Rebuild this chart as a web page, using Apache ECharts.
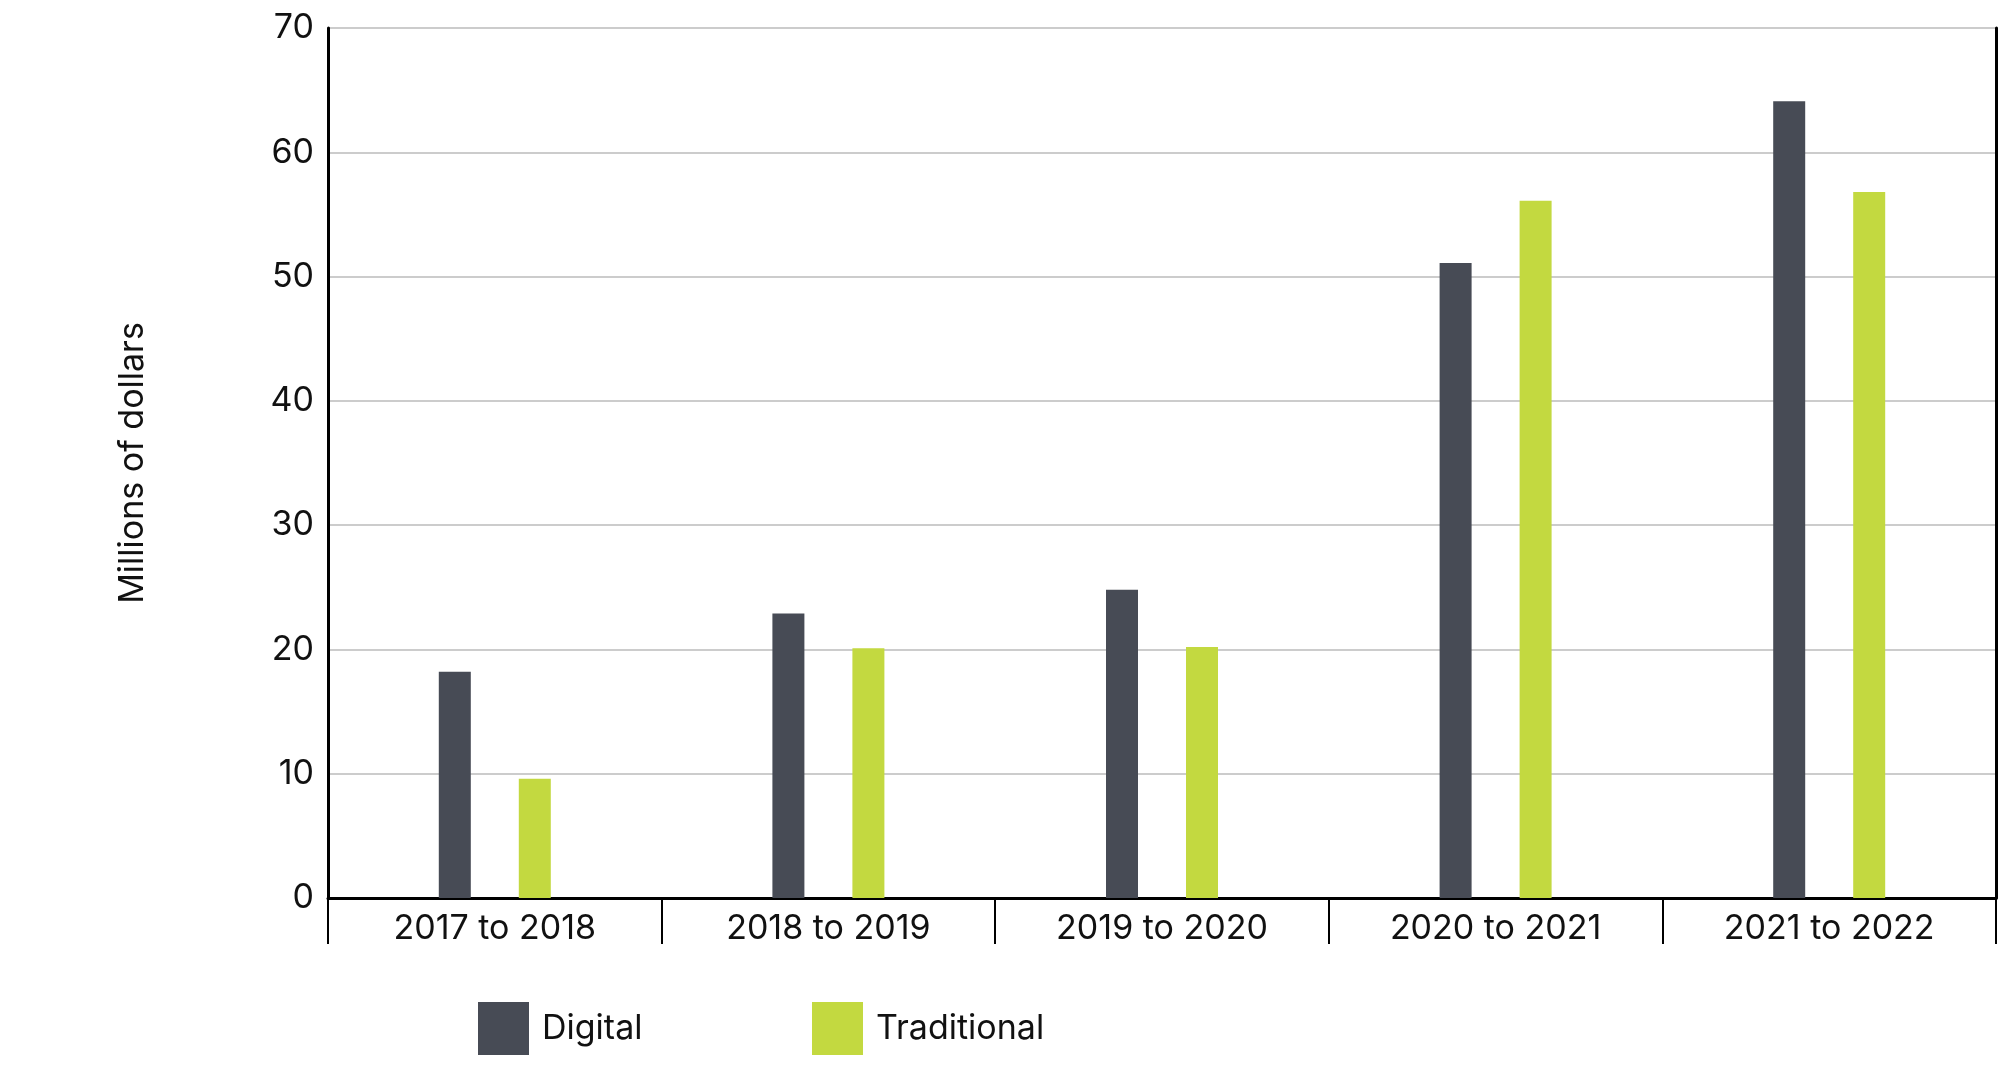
<!DOCTYPE html>
<html><head><meta charset="utf-8">
<script src="https://cdn.jsdelivr.net/npm/echarts@6/dist/echarts.min.js"></script>
<style>html,body{margin:0;background:#fff}#c{width:2000px;height:1084px}</style>
</head><body><div id="c"></div>
<script>
const categories = ['2017 to 2018','2018 to 2019','2019 to 2020','2020 to 2021','2021 to 2022'];
const digital = [18.2, 22.9, 24.8, 51.1, 64.1];
const traditional = [9.6, 20.1, 20.2, 56.1, 56.8];
const font = 'Inter, "Liberation Sans", sans-serif';
const chart = echarts.init(document.getElementById('c'));
const leg = (name, left) => ({left:left,top:997,itemWidth:51,itemHeight:53,icon:'rect',
    textStyle:{fontSize:34,color:'#111',fontFamily:font,padding:[0,0,0,8]},data:[name]});
chart.setOption({
  animation:false,
  textStyle:{fontFamily:font},
  grid:{left:328,right:4,top:28,bottom:186},
  legend:[leg('Digital',473), leg('Traditional',807)],
  xAxis:{type:'category',data:categories,boundaryGap:true,
    axisLine:{lineStyle:{color:'#000',width:3}},
    axisTick:{show:true,length:46,lineStyle:{color:'#000',width:2}},
    axisLabel:{fontSize:34,color:'#111',margin:14,fontFamily:font}},
  yAxis:[{type:'value',min:0,max:70,interval:10,name:'Millions of dollars',nameLocation:'middle',nameGap:178,
    nameTextStyle:{fontSize:34,color:'#111',fontFamily:font},
    axisLine:{show:true,lineStyle:{color:'#000',width:3}},axisTick:{show:false},
    axisLabel:{fontSize:34,color:'#111',margin:14,fontFamily:font},
    splitLine:{lineStyle:{color:'#ccc',width:2}}},
    {type:'value',min:0,max:70,interval:10,position:'right',axisLine:{show:true,lineStyle:{color:'#000',width:3}},axisLabel:{show:false},axisTick:{show:false},splitLine:{show:false}}],
  series:[
    {name:'Digital',type:'bar',data:digital,barWidth:32,barGap:'150%',itemStyle:{color:'#474b55'}},
    {name:'Traditional',type:'bar',data:traditional,barWidth:32,itemStyle:{color:'#c3d940'}}
  ]
});
</script></body></html>
